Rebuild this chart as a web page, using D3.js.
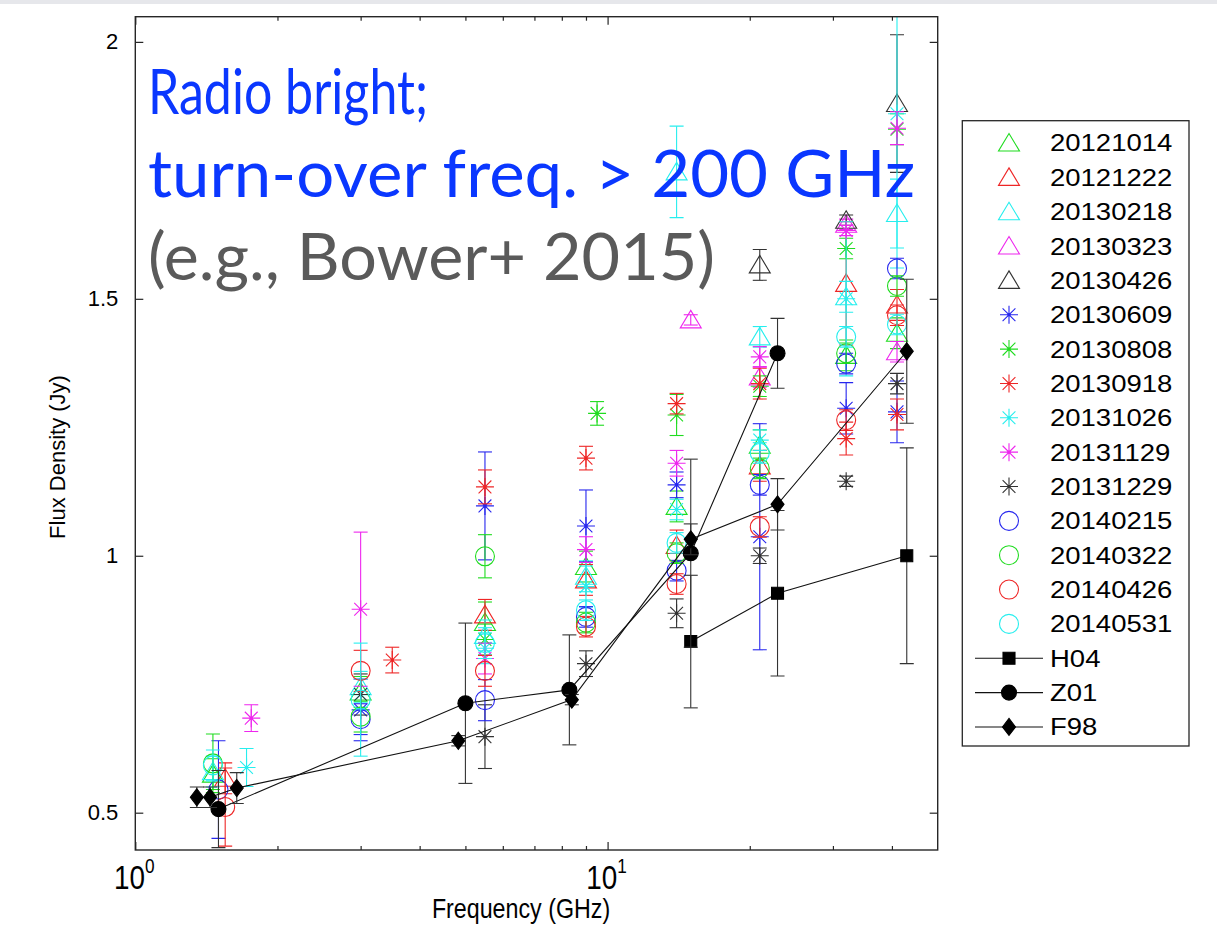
<!DOCTYPE html>
<html>
<head>
<meta charset="utf-8">
<title>Flux density spectra</title>
<script src="https://cdnjs.cloudflare.com/ajax/libs/d3/7.8.5/d3.min.js"></script>
<style>
  body { margin: 0; background: #fff; }
  svg { display: block; }
  .axis path, .axis line { stroke: #262626; stroke-width: 1.2px; }
  .axis text { font-family: "Liberation Sans", Arial, sans-serif; fill: #000; font-size: 22px; }
  .lbl { font-family: "Liberation Sans", Arial, sans-serif; fill: #000; }
  .note { font-family: Lato, "Open Sans", sans-serif; }
</style>
</head>
<body>
<svg id="chart" width="1217" height="943"></svg>
<script>
// ---- data: [frequency GHz, flux Jy, error Jy] ----
const epochs = ["20121014", "20121222", "20130218", "20130323", "20130426",
                "20130609", "20130808", "20130918", "20131026", "20131129",
                "20131229", "20140215", "20140322", "20140426", "20140531"];

const s20121014 = [[1.46, 0.575, 0.03], [3.0, 0.735, 0.03], [5.5, 0.87, 0.04], [9.0, 0.979, 0.03],
                   [14, 1.096, 0.03], [21, 1.215, 0.03], [32, 1.39, 0.03], [41, 1.433, 0.03]];
const s20121222 = [[1.55, 0.567, 0.03], [5.5, 0.885, 0.03], [9.0, 0.953, 0.03], [14, 1.02, 0.03],
                   [21, 1.175, 0.03], [32, 1.53, 0.12], [41, 1.488, 0.03]];
const s20130218 = [[1.46, 0.58, 0.03], [3.0, 0.745, 0.03], [5.5, 0.845, 0.03], [9.0, 0.96, 0.03],
                   [14, 1.747, 0.089], [21, 1.426, 0.02], [32, 1.504, 0.03], [41, 1.666, 0.067]];
const s20130323 = [[15, 1.459, 0.01], [21, 1.348, 0.02], [32, 1.645, 0.01], [41, 1.397, 0.02]];
const s20130426 = [[21, 1.566, 0.03], [32, 1.653, 0.01], [41, 1.88, 0.134]];
const s20130609 = [[3.0, 0.70, 0.06], [5.5, 1.097, 0.105], [9.0, 1.058, 0.07], [14, 1.138, 0.025],
                   [21, 1.037, 0.22], [32, 1.287, 0.05], [41, 1.28, 0.06]];
const s20130808 = [[5.5, 0.837, 0.03], [9.5, 1.277, 0.023], [14, 1.274, 0.04], [21, 1.33, 0.02],
                   [32, 1.598, 0.02], [41, 1.83, 0.03]];
const s20130918 = [[3.5, 0.797, 0.025], [5.5, 1.134, 0.033], [9.0, 1.19, 0.023], [14, 1.296, 0.02],
                   [21, 1.335, 0.03], [32, 1.228, 0.032], [41, 1.275, 0.03]];
const s20131026 = [[1.72, 0.588, 0.037], [3.0, 0.73, 0.03], [5.5, 0.82, 0.03], [9.0, 0.94, 0.04],
                   [14, 1.09, 0.02], [21, 1.225, 0.02], [32, 1.50, 0.15], [41, 1.86, 0.3]];
const s20131129 = [[1.76, 0.684, 0.026], [3.0, 0.896, 0.15], [5.5, 0.80, 0.03], [9.0, 1.012, 0.025],
                   [14, 1.18, 0.025], [21, 1.387, 0.02], [32, 1.633, 0.01], [41, 1.832, 0.032]];
const s20131229 = [[3.0, 0.73, 0.04], [5.5, 0.648, 0.062], [9.0, 0.79, 0.025], [14, 0.888, 0.028],
                   [21, 1.0, 0.015], [32, 1.145, 0.01], [41, 1.335, 0.02]];
const s20140215 = [[1.5, 0.545, 0.095], [3.0, 0.682, 0.03], [5.5, 0.719, 0.04], [9.0, 0.881, 0.02],
                   [14, 0.971, 0.02], [21, 1.138, 0.02], [32, 1.374, 0.02], [41, 1.559, 0.02]];
const s20140322 = [[1.46, 0.596, 0.057], [3.0, 0.687, 0.03], [5.5, 0.999, 0.042], [9.0, 0.87, 0.02],
                   [14, 1.005, 0.02], [21, 1.17, 0.02], [32, 1.394, 0.02], [41, 1.525, 0.02]];
const s20140426 = [[1.55, 0.511, 0.076], [3.0, 0.776, 0.04], [5.5, 0.776, 0.03], [9.0, 0.862, 0.02],
                   [14, 0.945, 0.02], [21, 1.056, 0.02], [32, 1.264, 0.02], [41, 1.468, 0.02]];
const s20140531 = [[1.46, 0.592, 0.03], [3.0, 0.72, 0.11], [5.5, 0.83, 0.03], [9.0, 0.894, 0.02],
                   [14, 1.025, 0.02], [21, 1.20, 0.02], [32, 1.426, 0.02], [41, 1.45, 0.02]];

const epochData = [s20121014, s20121222, s20130218, s20130323, s20130426,
                   s20130609, s20130808, s20130918, s20131026, s20131129,
                   s20131229, s20140215, s20140322, s20140426, s20140531];

const refNames = ["H04", "Z01", "F98"];
const H04 = [[15, 0.833, 0.129], [22.9, 0.927, 0.161], [43, 1.0, 0.21]];
const Z01 = [[1.5, 0.507, 0.075], [5.0, 0.713, 0.156], [8.3, 0.739, 0.107], [15, 1.005, 0.183], [22.9, 1.394, 0.068]];
const F98 = [[1.35, 0.53, 0.02], [1.44, 0.53, 0.02], [1.64, 0.548, 0.03], [4.83, 0.64, 0.01],
             [8.4, 0.72, 0.01], [15, 1.032, 0.03], [22.9, 1.10, 0.05], [43, 1.398, 0.14]];
const refData = [H04, Z01, F98];

const xMajor = [1, 10];
const xMinor = [2, 3, 4, 5, 6, 7, 8, 9, 20, 30, 40];
const yTicks = [0.5, 1, 1.5, 2];

const noteLines = ["Radio bright;", "turn-over freq. > 200 GHz", "(e.g., Bower+ 2015)"];

// ---- styles ----
const C = { g: "#1fdc1f", r: "#ee2626", c: "#26eeee", m: "#ee26ee", k: "#333333", b: "#2626ee" };
const epochColor = [C.g, C.r, C.c, C.m, C.k, C.b, C.g, C.r, C.c, C.m, C.k, C.b, C.g, C.r, C.c];
const epochShape = ["tri", "tri", "tri", "tri", "tri", "star", "star", "star", "star", "star",
                    "star", "circ", "circ", "circ", "circ"];
const refShape = ["square", "disc", "diamond"];

const svg = d3.select("#chart");
const box = { left: 135.3, right: 937.7, top: 16.7, bottom: 850 };

const x = d3.scaleLog().domain([1, 50]).range([box.left, box.right]);
const y = d3.scaleLinear().domain([0.4274, 2.049]).range([box.bottom, box.top]);

svg.append("rect").attr("width", 1217).attr("height", 4).attr("fill", "#e6e7eb");

svg.append("clipPath").attr("id", "plotclip")
  .append("rect").attr("x", box.left).attr("y", box.top)
  .attr("width", box.right - box.left).attr("height", box.bottom - box.top);

function markerPath(kind) {
  if (kind === "tri") return "M0,-9.5L10.5,8L-10.5,8Z";
  if (kind === "star") return "M-9,0H9M0,-9V9M-6.4,-6.4L6.4,6.4M-6.4,6.4L6.4,-6.4";
  if (kind === "circ") return d3.arc()({ innerRadius: 0, outerRadius: 9.5, startAngle: 0, endAngle: 2 * Math.PI });
  if (kind === "square") return "M-6,-6H6V6H-6Z";
  if (kind === "disc") return d3.arc()({ innerRadius: 0, outerRadius: 7.5, startAngle: 0, endAngle: 2 * Math.PI });
  if (kind === "diamond") return "M0,-8.5L6.5,0L0,8.5L-6.5,0Z";
}

function drawMarker(sel, kind, color, filled) {
  sel.append("path").attr("d", markerPath(kind))
    .attr("fill", filled ? color : "none")
    .attr("stroke", color).attr("stroke-width", 1.1);
  if (kind === "star") sel.append("circle").attr("r", 1.6).attr("fill", color);
}

const plot = svg.append("g").attr("clip-path", "url(#plotclip)");
const cap = 7;

function drawErrors(g, pts, color) {
  pts.forEach(([f, v, e]) => {
    const px = x(f), y1 = y(v + e), y2 = y(v - e);
    g.append("line").attr("x1", px).attr("x2", px).attr("y1", y1).attr("y2", y2);
    g.append("line").attr("x1", px - cap).attr("x2", px + cap).attr("y1", y1).attr("y2", y1);
    g.append("line").attr("x1", px - cap).attr("x2", px + cap).attr("y1", y2).attr("y2", y2);
  });
  g.attr("stroke", color).attr("stroke-width", 1.1);
}

// colored epochs
epochData.forEach((pts, i) => {
  const g = plot.append("g");
  drawErrors(g.append("g"), pts, epochColor[i]);
  g.selectAll("g.mk").data(pts).join("g").attr("class", "mk")
    .attr("transform", d => `translate(${x(d[0])},${y(d[1])})`)
    .each(function () { drawMarker(d3.select(this), epochShape[i], epochColor[i], false); });
});

// literature points, connected
const line = d3.line().x(d => x(d[0])).y(d => y(d[1]));
refData.forEach((pts, i) => {
  const g = plot.append("g");
  drawErrors(g.append("g"), pts, "#333");
  g.append("path").attr("d", line(pts)).attr("fill", "none").attr("stroke", "#111").attr("stroke-width", 1.1);
  g.selectAll("g.mk").data(pts).join("g").attr("class", "mk")
    .attr("transform", d => `translate(${x(d[0])},${y(d[1])})`)
    .each(function () { drawMarker(d3.select(this), refShape[i], "#000", true); });
});

// axes (MATLAB style, inward ticks on all sides)
function clean(g) { g.select(".domain").remove(); }
svg.append("g").attr("class", "axis").attr("transform", `translate(0,${box.bottom})`)
  .call(d3.axisBottom(x).tickValues(xMajor).tickSize(-8).tickFormat("")).call(clean);
svg.append("g").attr("class", "axis").attr("transform", `translate(0,${box.bottom})`)
  .call(d3.axisBottom(x).tickValues(xMinor).tickSize(-4).tickFormat("")).call(clean);
svg.append("g").attr("class", "axis").attr("transform", `translate(0,${box.top})`)
  .call(d3.axisTop(x).tickValues(xMajor).tickSize(-8).tickFormat("")).call(clean);
svg.append("g").attr("class", "axis").attr("transform", `translate(0,${box.top})`)
  .call(d3.axisTop(x).tickValues(xMinor).tickSize(-4).tickFormat("")).call(clean);
svg.append("g").attr("class", "axis").attr("transform", `translate(${box.left},0)`)
  .call(d3.axisLeft(y).tickValues(yTicks).tickSize(-8).tickPadding(17).tickFormat(d3.format("")))
  .call(clean);
svg.append("g").attr("class", "axis").attr("transform", `translate(${box.right},0)`)
  .call(d3.axisRight(y).tickValues(yTicks).tickSize(-8).tickFormat("")).call(clean);

svg.append("rect").attr("x", box.left).attr("y", box.top)
  .attr("width", box.right - box.left).attr("height", box.bottom - box.top)
  .attr("fill", "none").attr("stroke", "#262626").attr("stroke-width", 1.4);

xMajor.forEach(v => {
  const t = svg.append("text").attr("class", "lbl")
    .attr("transform", `translate(${x(v) - 1},889) scale(0.82,1)`)
    .attr("text-anchor", "middle").attr("font-size", 34);
  t.append("tspan").text("10");
  t.append("tspan").attr("font-size", 21).attr("dy", -16).text(Math.log10(v));
});

svg.append("text").attr("class", "lbl")
  .attr("transform", "translate(521,918) scale(0.93,1.08)")
  .attr("text-anchor", "middle").attr("font-size", 25).text("Frequency (GHz)");
svg.append("text").attr("class", "lbl")
  .attr("transform", "translate(65,457) rotate(-90)")
  .attr("text-anchor", "middle").attr("font-size", 22).text("Flux Density (Jy)");

// legend
const leg = svg.append("g");
leg.append("rect").attr("x", 962.3).attr("y", 120.7).attr("width", 226.7).attr("height", 625.3)
  .attr("fill", "#fff").attr("stroke", "#262626").attr("stroke-width", 1.3);
const rowY = i => 143 + i * 34.35;
epochs.forEach((name, i) => {
  const r = leg.append("g").attr("transform", `translate(1009,${rowY(i)})`);
  drawMarker(r, epochShape[i], epochColor[i], false);
  leg.append("text").attr("class", "lbl").attr("font-size", 23.5)
    .attr("transform", `translate(1050,${rowY(i)}) scale(1.17,1)`).attr("dy", "0.36em").text(name);
});
refNames.forEach((name, j) => {
  const i = epochs.length + j;
  leg.append("line").attr("x1", 975).attr("x2", 1043).attr("y1", rowY(i)).attr("y2", rowY(i))
    .attr("stroke", "#111").attr("stroke-width", 1.1);
  const r = leg.append("g").attr("transform", `translate(1009,${rowY(i)})`);
  drawMarker(r, refShape[j], "#000", true);
  leg.append("text").attr("class", "lbl").attr("font-size", 23.5)
    .attr("transform", `translate(1050,${rowY(i)}) scale(1.17,1)`).attr("dy", "0.36em").text(name);
});

// annotation
const noteBase = [114, 197, 280];
const noteWidth = [280, 767, 567];
const noteSize = [62, 66, 66];
const noteColor = ["#0a37ff", "#0a37ff", "#5a5a5a"];
noteLines.forEach((s, i) => {
  svg.append("text").attr("class", "note").attr("x", 148).attr("y", noteBase[i])
    .attr("font-size", noteSize[i]).attr("fill", noteColor[i])
    .attr("textLength", noteWidth[i]).attr("lengthAdjust", "spacingAndGlyphs").text(s);
});
</script>
</body>
</html>
